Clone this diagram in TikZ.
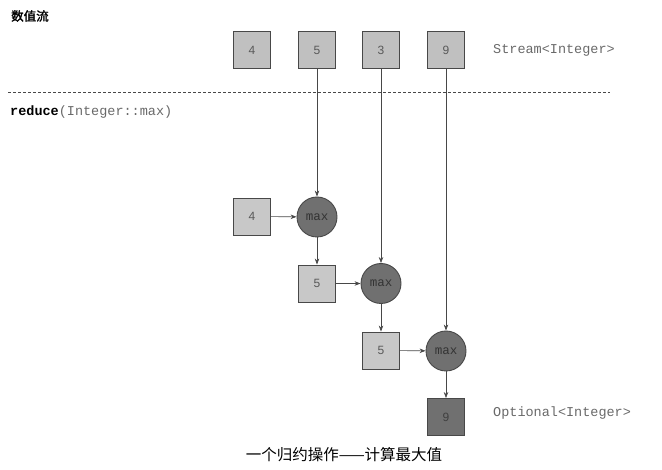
\documentclass[tikz,border=0pt]{standalone}
\usepackage{fontspec}
\setmainfont{Liberation Serif}
\setsansfont{Liberation Sans}
\setmonofont{Liberation Mono}
\newfontfamily\cjk{Noto Sans CJK SC}
\newfontfamily\cjkbold[FakeBold=1.5]{Noto Sans CJK SC}
\usetikzlibrary{arrows.meta}

\definecolor{streamFill}{RGB}{192,192,192}
\definecolor{accFill}{RGB}{200,200,200}
\definecolor{maxFill}{RGB}{112,112,112}
\definecolor{edgeGray}{RGB}{72,72,72}
\definecolor{codeGray}{RGB}{105,105,105}

\begin{document}
\begin{tikzpicture}[x=1pt, y=-1pt,
    valBox/.style={draw=edgeGray, line width=0.9pt, fill=streamFill, minimum size=37pt,
        inner sep=0pt, font=\sffamily\fontsize{12}{12}\selectfont, text=black!65},
    maxCircle/.style={draw=edgeGray, line width=0.9pt, fill=maxFill, circle, minimum size=40pt,
        inner sep=0pt, font=\ttfamily\fontsize{12.5}{12.5}\selectfont, text=black!80},
    codeText/.style={anchor=west, inner sep=0pt, font=\ttfamily\fontsize{13.5}{13.5}\selectfont, text=codeGray},
    flowArrow/.style={-{Stealth[length=6pt, width=4.5pt]}, draw=edgeGray, line width=0.6pt}]

    \useasboundingbox (0,0) rectangle (662,470);

    % Stream
    \node[anchor=west, inner sep=0pt, font=\fontsize{12.5}{12.5}\selectfont] (streamTitle) at (11,16) {\cjkbold 数值流};
    \node[valBox] (streamA) at (252,50) {4};
    \node[valBox] (streamB) at (317,50) {5};
    \node[valBox] (streamC) at (381,50) {3};
    \node[valBox] (streamD) at (446,50) {9};
    \node[codeText] (streamType) at (493,50) {Stream<Integer>};

    \coordinate (sepLeft) at (8,92);
    \coordinate (sepRight) at (610,92);
    \draw[edgeGray, line width=0.7pt, dash pattern=on 3pt off 2pt] (sepLeft) -- (sepRight);

    \node[codeText] (reduceCall) at (10,112) {\textcolor{black}{\bfseries reduce}(Integer::max)};

    % Reduce
    \node[valBox, fill=accFill] (accA) at (252,216.5) {4};
    \node[maxCircle] (maxA) at (317,217) {max};
    \node[valBox, fill=accFill] (accB) at (317,283.5) {5};
    \node[maxCircle] (maxB) at (381,283.5) {max};
    \node[valBox, fill=accFill] (accC) at (381,350.5) {5};
    \node[maxCircle] (maxC) at (446,351) {max};
    \node[valBox, fill=maxFill, text=black!75] (result) at (446,417) {9};
    \node[codeText] (resultType) at (493,413) {Optional<Integer>};

    \node[font=\fontsize{15.5}{15.5}\selectfont, inner sep=0pt] (caption) at (344,455) {\cjk 一个归约操作——计算最大值};

    \draw[flowArrow] (streamB) -- (maxA);
    \draw[flowArrow] (streamC) -- (maxB);
    \draw[flowArrow] (streamD) -- (maxC);
    \draw[flowArrow] (accA) -- (maxA);
    \draw[flowArrow] (maxA) -- (accB);
    \draw[flowArrow] (accB) -- (maxB);
    \draw[flowArrow] (maxB) -- (accC);
    \draw[flowArrow] (accC) -- (maxC);
    \draw[flowArrow] (maxC) -- (result);
\end{tikzpicture}
\end{document}
